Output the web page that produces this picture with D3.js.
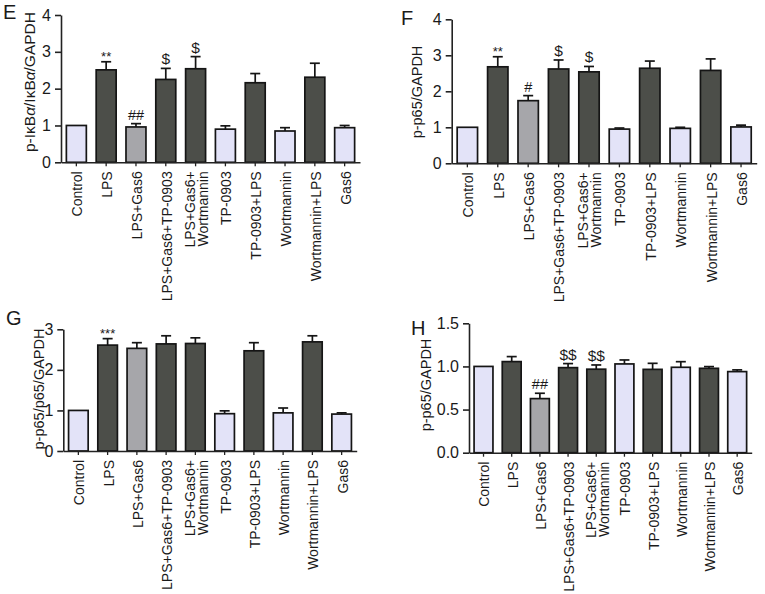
<!DOCTYPE html>
<html><head><meta charset="utf-8">
<script src="https://cdn.jsdelivr.net/npm/d3@7"></script>
<style>
body{margin:0;background:#fff}
text{font-family:"Liberation Sans",Arial,Helvetica,sans-serif;fill:#1a1a1a}
</style>
</head><body>
<svg id="chart" width="765" height="594"></svg>
<script>
// ---------- data ----------
const categories = ["Control","LPS","LPS+Gas6","LPS+Gas6+TP-0903","LPS+Gas6+\nWortmannin","TP-0903","TP-0903+LPS","Wortmannin","Wortmannin+LPS","Gas6"];
const barShade = ["light","dark","mid","dark","dark","light","dark","light","dark","light"];

const valuesE = [1.00, 2.51, 0.96, 2.25, 2.54, 0.90, 2.16, 0.85, 2.31, 0.94];
const errorsE = [0.00, 0.22, 0.09, 0.30, 0.33, 0.09, 0.25, 0.09, 0.38, 0.06];
const marksE  = ["", "**", "##", "$", "$", "", "", "", "", ""];
const ticksE  = [0, 1, 2, 3, 4];

const valuesF = [1.00, 2.68, 1.74, 2.62, 2.54, 0.95, 2.64, 0.97, 2.58, 1.01];
const errorsF = [0.00, 0.28, 0.14, 0.25, 0.15, 0.03, 0.20, 0.03, 0.32, 0.05];
const marksF  = ["", "**", "#", "$", "$", "", "", "", "", ""];
const ticksF  = [0, 1, 2, 3, 4];

const valuesG = [1.00, 2.61, 2.53, 2.64, 2.65, 0.92, 2.47, 0.94, 2.69, 0.91];
const errorsG = [0.00, 0.16, 0.14, 0.20, 0.14, 0.07, 0.20, 0.12, 0.15, 0.03];
const marksG  = ["", "***", "", "", "", "", "", "", "", ""];
const ticksG  = [0, 1, 2, 3];

const valuesH = [1.00, 1.056, 0.627, 0.986, 0.968, 1.029, 0.966, 0.99, 0.978, 0.94];
const errorsH = [0.00, 0.058, 0.062, 0.047, 0.049, 0.046, 0.070, 0.065, 0.020, 0.020];
const marksH  = ["", "", "##", "$$", "$$", "", "", "", "", ""];
const ticksH  = [0, 0.5, 1.0, 1.5];

// ---------- layout / style ----------
const shadeColor = {light:"#e3e3f8", dark:"#4c4e49", mid:"#a6a6aa"};
const panels = [
  {letter:"E", label:[["p-IκB",""],["α","i"],["/IκB",""],["α","i"],["/GAPDH",""]], labelSize:15.5,
   values:valuesE, errors:errorsE, marks:marksE, ticks:ticksE, fmt:d3.format("d"), max:4,
   x0:61, x1:360, y0:162.3, yTop:15, lx:3, ly:19, labX:30, labY:82},
  {letter:"F", label:[["p-p65/GAPDH",""]], labelSize:14.5,
   values:valuesF, errors:errorsF, marks:marksF, ticks:ticksF, fmt:d3.format("d"), max:4,
   x0:451.7, x1:756.7, y0:163.3, yTop:19.3, lx:401, ly:25, labX:417, labY:92},
  {letter:"G", label:[["p-p65/p65/GAPDH",""]], labelSize:14.5,
   values:valuesG, errors:errorsG, marks:marksG, ticks:ticksG, fmt:d3.format("d"), max:3,
   x0:63.3, x1:356.7, y0:451, yTop:329.3, lx:6, ly:325, labX:39, labY:389},
  {letter:"H", label:[["p-p65/GAPDH",""]], labelSize:14.5,
   values:valuesH, errors:errorsH, marks:marksH, ticks:ticksH, fmt:d3.format(".1f"), max:1.5,
   x0:469, x1:751.7, y0:452.7, yTop:323.3, lx:411, ly:335, labX:426, labY:385}
];

const svg = d3.select("#chart");

panels.forEach(p => {
  const g = svg.append("g");
  const x = d3.scaleBand().domain(categories).range([p.x0, p.x1]).paddingInner(0.33).paddingOuter(0.18);
  const y = d3.scaleLinear().domain([0, p.max]).range([p.y0, p.yTop]);
  const bw = x.bandwidth();

  // bars
  g.selectAll("rect.bar").data(categories).join("rect")
    .attr("x", d => x(d)).attr("width", bw)
    .attr("y", (d,i) => y(p.values[i]))
    .attr("height", (d,i) => y(0) - y(p.values[i]))
    .attr("fill", (d,i) => shadeColor[barShade[i]])
    .attr("stroke", "#151515").attr("stroke-width", 1.7);

  // error bars (upper only)
  categories.forEach((c,i) => {
    if (!p.errors[i]) return;
    const cx = x(c) + bw/2, top = y(p.values[i] + p.errors[i]);
    g.append("line").attr("x1",cx).attr("x2",cx).attr("y1",y(p.values[i])).attr("y2",top)
      .attr("stroke","#151515").attr("stroke-width",1.7);
    g.append("line").attr("x1",cx-5).attr("x2",cx+5).attr("y1",top).attr("y2",top)
      .attr("stroke","#151515").attr("stroke-width",1.7);
  });

  // significance marks
  categories.forEach((c,i) => {
    const m = p.marks[i];
    if (!m) return;
    const star = m.includes("*");
    const cx = x(c) + bw/2, top = y(p.values[i] + p.errors[i]);
    g.append("text").attr("x", cx).attr("y", top - (star ? 1 : 4))
      .attr("text-anchor","middle").style("font-size", star ? "13px" : (m.includes("$") ? "15.5px" : "14.5px")).text(m);
  });

  // y axis
  const ya = g.append("g").attr("transform", `translate(${p.x0},0)`)
    .call(d3.axisLeft(y).tickValues(p.ticks).tickFormat(p.fmt).tickSize(6).tickSizeOuter(0).tickPadding(4));
  ya.select(".domain").attr("stroke","#222").attr("stroke-width",1.6);
  ya.selectAll(".tick line").attr("stroke","#222").attr("stroke-width",1.6);
  ya.selectAll(".tick text").attr("font-size",null).style("font-size","16px").attr("fill","#1a1a1a")
    .style("font-family",'"Liberation Sans",Arial,sans-serif');

  // x axis
  const xa = g.append("g").attr("transform", `translate(0,${p.y0})`)
    .call(d3.axisBottom(x).tickSizeInner(4).tickSizeOuter(0).tickFormat(""));
  xa.select(".domain").attr("stroke","#222").attr("stroke-width",1.6);
  xa.selectAll(".tick line").attr("stroke","#222").attr("stroke-width",1.3);

  // x tick labels (rotated)
  categories.forEach(c => {
    const lines = c.split("\n");
    const t = g.append("text")
      .attr("transform", `translate(${x(c) + bw/2 + 1},${p.y0 + 9}) rotate(-90)`)
      .attr("text-anchor","end").style("font-size","14px");
    lines.forEach((ln, k) => {
      t.append("tspan").attr("x",0).attr("y", (k - (lines.length-1)/2) * 13).attr("dy","0.35em").text(ln);
    });
  });

  // y label
  const lt = g.append("text")
    .attr("transform", `translate(${p.labX},${p.labY}) rotate(-90)`)
    .attr("text-anchor","middle").attr("dy","0.35em").style("font-size", p.labelSize + "px");
  p.label.forEach(([s, st]) => {
    const ts = lt.append("tspan").text(s);
    if (st === "i") ts.style("font-style","italic");
  });

  // panel letter
  g.append("text").attr("x", p.lx).attr("y", p.ly).style("font-size","20px").text(p.letter);
});
</script>
</body></html>
